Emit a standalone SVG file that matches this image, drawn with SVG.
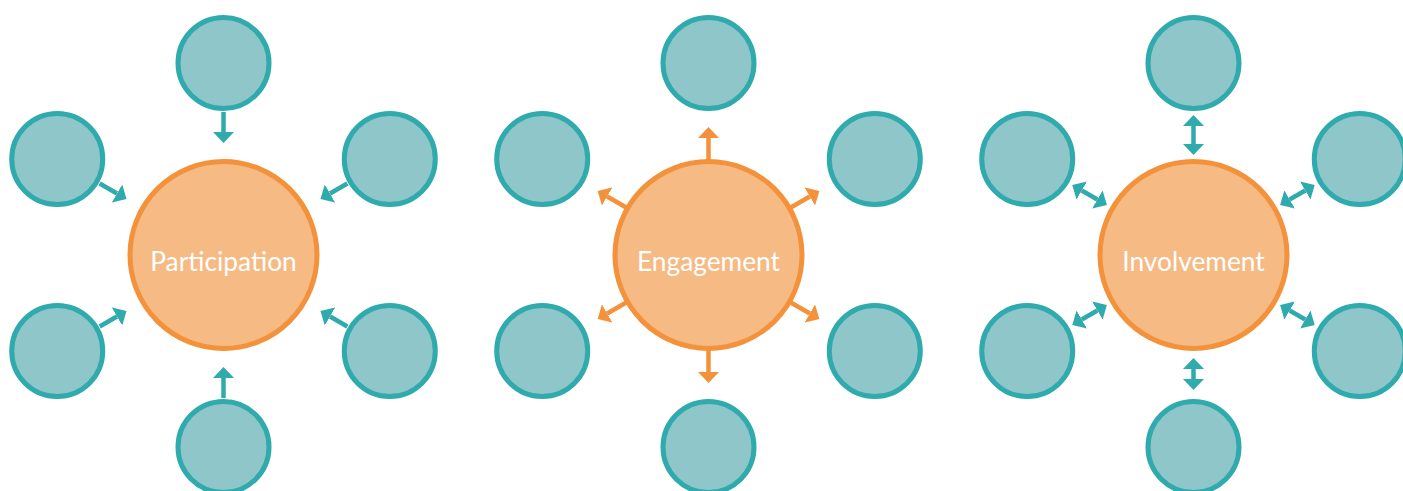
<svg xmlns="http://www.w3.org/2000/svg" width="1403" height="491" viewBox="0 0 1403 491">
  <style>
    .sat { fill: #8FC6C9; stroke: #2FAAAD; stroke-width: 5; }
    .hub { fill: #F6BA84; stroke: #F3923A; stroke-width: 5; }
    .lbl { font-family: Lato, "Open Sans", "Liberation Sans", sans-serif; font-size: 26.3px; fill: #FFFFFF; text-anchor: middle; }
    .ct { stroke: #2FAAAD; stroke-width: 4.5; fill: none; }
    .co { stroke: #F3923A; stroke-width: 4.5; fill: none; }
    .in { marker-end: url(#aht); }
    .out { marker-end: url(#aho); }
    .both { marker-start: url(#aht); marker-end: url(#aht); }
  </style>
  <defs>
    <marker id="aht" markerUnits="userSpaceOnUse" viewBox="0 0 11 21" markerWidth="11" markerHeight="21" refX="0" refY="10.5" orient="auto-start-reverse">
      <path d="M0,0 L11,10.5 L0,21 z" fill="#2FAAAD"/>
    </marker>
    <marker id="aho" markerUnits="userSpaceOnUse" viewBox="0 0 11 21" markerWidth="11" markerHeight="21" refX="0" refY="10.5" orient="auto-start-reverse">
      <path d="M0,0 L11,10.5 L0,21 z" fill="#F3923A"/>
    </marker>
  </defs>
  <rect width="1403" height="491" fill="#FFFFFF"/>

  <g id="connectors">
    <!-- Participation: inward -->
    <path class="ct in" d="M223.5,112 L223.5,132"/>
    <path class="ct in" d="M223.5,398 L223.5,378"/>
    <path class="ct in" d="M99.66,183.5 L116.98,193.5"/>
    <path class="ct in" d="M347.34,183.5 L330.02,193.5"/>
    <path class="ct in" d="M99.66,326.5 L116.98,316.5"/>
    <path class="ct in" d="M347.34,326.5 L330.02,316.5"/>
    <!-- Engagement: outward -->
    <path class="co out" d="M708.5,160 L708.5,138"/>
    <path class="co out" d="M708.5,350 L708.5,372"/>
    <path class="co out" d="M626.23,207.5 L607.18,196.5"/>
    <path class="co out" d="M790.77,207.5 L809.82,196.5"/>
    <path class="co out" d="M626.23,302.5 L607.18,313.5"/>
    <path class="co out" d="M790.77,302.5 L809.82,313.5"/>
    <!-- Involvement: both ways -->
    <path class="ct both" d="M1193.5,144 L1193.5,126"/>
    <path class="ct both" d="M1193.5,369 L1193.5,379"/>
    <path class="ct both" d="M1097.37,199.5 L1081.78,190.5"/>
    <path class="ct both" d="M1289.63,199.5 L1305.22,190.5"/>
    <path class="ct both" d="M1097.37,310.5 L1081.78,319.5"/>
    <path class="ct both" d="M1289.63,310.5 L1305.22,319.5"/>
  </g>

  <g id="participation">
    <circle class="hub" cx="223.5" cy="255" r="93.5"/>
    <text class="lbl" x="223.5" y="271">Participation</text>
  </g>
  <g id="p-top"><circle class="sat" cx="223.5" cy="63" r="45.5"/></g>
  <g id="p-ur"><circle class="sat" cx="389.78" cy="159" r="45.5"/></g>
  <g id="p-lr"><circle class="sat" cx="389.78" cy="351" r="45.5"/></g>
  <g id="p-bottom"><circle class="sat" cx="223.5" cy="447" r="45.5"/></g>
  <g id="p-ll"><circle class="sat" cx="57.22" cy="351" r="45.5"/></g>
  <g id="p-ul"><circle class="sat" cx="57.22" cy="159" r="45.5"/></g>

  <g id="engagement">
    <circle class="hub" cx="708.5" cy="255" r="93.5"/>
    <text class="lbl" x="708.5" y="271">Engagement</text>
  </g>
  <g id="e-top"><circle class="sat" cx="708.5" cy="63" r="45.5"/></g>
  <g id="e-ur"><circle class="sat" cx="874.78" cy="159" r="45.5"/></g>
  <g id="e-lr"><circle class="sat" cx="874.78" cy="351" r="45.5"/></g>
  <g id="e-bottom"><circle class="sat" cx="708.5" cy="447" r="45.5"/></g>
  <g id="e-ll"><circle class="sat" cx="542.22" cy="351" r="45.5"/></g>
  <g id="e-ul"><circle class="sat" cx="542.22" cy="159" r="45.5"/></g>

  <g id="involvement">
    <circle class="hub" cx="1193.5" cy="255" r="93.5"/>
    <text class="lbl" x="1193.5" y="271">Involvement</text>
  </g>
  <g id="i-top"><circle class="sat" cx="1193.5" cy="63" r="45.5"/></g>
  <g id="i-ur"><circle class="sat" cx="1359.78" cy="159" r="45.5"/></g>
  <g id="i-lr"><circle class="sat" cx="1359.78" cy="351" r="45.5"/></g>
  <g id="i-bottom"><circle class="sat" cx="1193.5" cy="447" r="45.5"/></g>
  <g id="i-ll"><circle class="sat" cx="1027.22" cy="351" r="45.5"/></g>
  <g id="i-ul"><circle class="sat" cx="1027.22" cy="159" r="45.5"/></g>
</svg>
